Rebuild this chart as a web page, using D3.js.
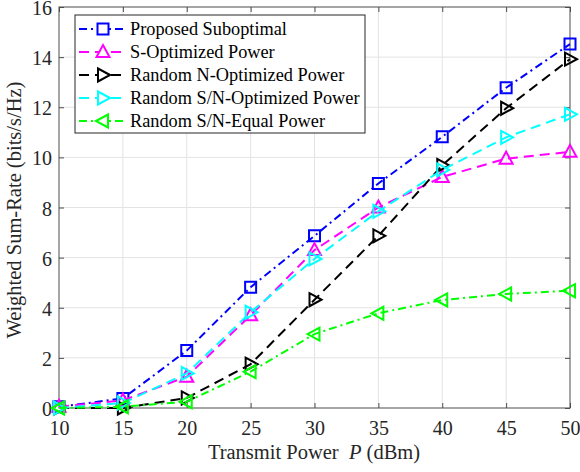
<!DOCTYPE html>
<html lang="en">
<head>
  <meta charset="UTF-8">
  <title>Weighted sum-rate vs transmit power</title>
  <style>
    body { margin: 0; background: #fff; font-family: "Liberation Serif", "Times New Roman", serif; }
  </style>
  <script src="https://cdn.jsdelivr.net/npm/d3@7"></script>
</head>
<body>
<script>
  // data
  var power = [10, 15, 20, 25, 30, 35, 40, 45, 50];
  var proposed = [0.05, 0.38, 2.29, 4.82, 6.87, 8.96, 10.82, 12.78, 14.52];
  var sOptimized = [0.05, 0.3, 1.25, 3.7, 6.3, 8.0, 9.22, 9.95, 10.22];
  var randomN = [0.0, 0.0, 0.4, 1.75, 4.32, 6.87, 9.68, 11.96, 13.92];
  var randomSN = [0.0, 0.2, 1.38, 3.82, 5.95, 7.85, 9.5, 10.8, 11.72];
  var randomEqual = [0.0, 0.05, 0.25, 1.45, 2.95, 3.78, 4.31, 4.55, 4.68];
  var xTicks = [10, 15, 20, 25, 30, 35, 40, 45, 50];
  var yTicks = [0, 2, 4, 6, 8, 10, 12, 14, 16];

  var series = [
    { name: "Proposed Suboptimal", values: proposed, color: "#0000ff", dash: "8,4,2,4", marker: "square" },
    { name: "S-Optimized Power", values: sOptimized, color: "#ff00ff", dash: "10,6", marker: "up" },
    { name: "Random N-Optimized Power", values: randomN, color: "#000000", dash: "10,6", marker: "right" },
    { name: "Random S/N-Optimized Power", values: randomSN, color: "#00ffff", dash: "10,6", marker: "right" },
    { name: "Random S/N-Equal Power", values: randomEqual, color: "#00ff00", dash: "8,4,2,4", marker: "left" }
  ];

  var W = 580, H = 472;
  var pLeft = 59, pRight = 570, pTop = 7, pBottom = 408;
  var serif = '"Liberation Serif", "Times New Roman", serif';

  var x = d3.scaleLinear().domain([10, 50]).range([pLeft, pRight]);
  var y = d3.scaleLinear().domain([0, 16]).range([pBottom, pTop]);

  var svg = d3.select("body").append("svg").attr("width", W).attr("height", H);

  // grid
  svg.append("g").selectAll("line").data(xTicks.slice(1, -1)).enter().append("line")
    .attr("x1", function(d) { return x(d); }).attr("x2", function(d) { return x(d); })
    .attr("y1", pTop).attr("y2", pBottom)
    .attr("stroke", "#e3e3e3").attr("stroke-width", 1);
  svg.append("g").selectAll("line").data(yTicks.slice(1, -1)).enter().append("line")
    .attr("y1", function(d) { return y(d); }).attr("y2", function(d) { return y(d); })
    .attr("x1", pLeft).attr("x2", pRight)
    .attr("stroke", "#e3e3e3").attr("stroke-width", 1);

  // axes (ticks inside, box on)
  var axisColor = "#4d4d4d";
  function styleAxis(g, showLabels) {
    g.select(".domain").remove();
    g.selectAll("line").attr("stroke", axisColor);
    g.selectAll("text")
      .attr("fill", "#262626")
      .style("font-family", serif)
      .style("font-size", "20px")
      .style("display", showLabels ? null : "none");
  }
  svg.append("g").attr("transform", "translate(0," + pBottom + ")")
    .call(d3.axisBottom(x).tickValues(xTicks).tickSizeInner(-5).tickSizeOuter(0).tickPadding(13))
    .call(styleAxis, true);
  svg.append("g").attr("transform", "translate(0," + pTop + ")")
    .call(d3.axisTop(x).tickValues(xTicks).tickSizeInner(-5).tickSizeOuter(0))
    .call(styleAxis, false);
  svg.append("g").attr("transform", "translate(" + pLeft + ",0)")
    .call(d3.axisLeft(y).tickValues(yTicks).tickSizeInner(-5).tickSizeOuter(0).tickPadding(7))
    .call(styleAxis, true)
    .selectAll("text").attr("dy", "0.38em");
  svg.append("g").attr("transform", "translate(" + pRight + ",0)")
    .call(d3.axisRight(y).tickValues(yTicks).tickSizeInner(-5).tickSizeOuter(0))
    .call(styleAxis, false);

  svg.append("rect")
    .attr("x", pLeft).attr("y", pTop).attr("width", pRight - pLeft).attr("height", pBottom - pTop)
    .attr("fill", "none").attr("stroke", axisColor).attr("stroke-width", 1);

  // markers
  function markerPath(type) {
    var s = 5.5;
    if (type === "square") return "M" + (-s) + "," + (-s) + "H" + s + "V" + s + "H" + (-s) + "Z";
    if (type === "up") return "M0,-7L6.5,5L-6.5,5Z";
    if (type === "right") return "M7,0L-5,-6.5L-5,6.5Z";
    if (type === "left") return "M-7,0L5,-6.5L5,6.5Z";
  }

  var line = d3.line()
    .x(function(d, i) { return x(power[i]); })
    .y(function(d) { return y(d); });

  series.forEach(function(s) {
    var g = svg.append("g");
    g.append("path")
      .attr("d", line(s.values))
      .attr("fill", "none")
      .attr("stroke", s.color)
      .attr("stroke-width", 2)
      .attr("stroke-dasharray", s.dash);
    g.selectAll("path.mk").data(s.values).enter().append("path")
      .attr("class", "mk")
      .attr("transform", function(d, i) { return "translate(" + x(power[i]) + "," + y(d) + ")"; })
      .attr("d", markerPath(s.marker))
      .attr("fill", "none")
      .attr("stroke", s.color)
      .attr("stroke-width", 2);
  });

  // legend
  var lg = svg.append("g");
  lg.append("rect")
    .attr("x", 75).attr("y", 15).attr("width", 290).attr("height", 118)
    .attr("fill", "#fff").attr("stroke", "#262626").attr("stroke-width", 1);
  series.forEach(function(s, i) {
    var ly = 29 + i * 23;
    lg.append("line")
      .attr("x1", 79).attr("x2", 126).attr("y1", ly).attr("y2", ly)
      .attr("stroke", s.color).attr("stroke-width", 2)
      .attr("stroke-dasharray", s.dash);
    lg.append("path")
      .attr("transform", "translate(103," + ly + ")")
      .attr("d", markerPath(s.marker))
      .attr("fill", "#fff").attr("stroke", s.color).attr("stroke-width", 2);
    lg.append("text")
      .attr("x", 130).attr("y", ly + 6)
      .style("font-size", "18.3px")
      .attr("fill", "#000")
      .text(s.name);
  });

  // axis titles
  var xt = svg.append("text")
    .attr("x", 314).attr("y", 459)
    .attr("text-anchor", "middle")
    .style("font-size", "20.5px")
    .attr("fill", "#262626");
  xt.append("tspan").text("Transmit Power\u00a0\u00a0");
  xt.append("tspan").style("font-style", "italic").text("P");
  xt.append("tspan").text(" (dBm)");

  svg.append("text")
    .attr("transform", "translate(21,210)rotate(-90)")
    .attr("text-anchor", "middle")
    .style("font-size", "20.5px")
    .attr("fill", "#262626")
    .text("Weighted Sum-Rate (bits/s/Hz)");
</script>
</body>
</html>
